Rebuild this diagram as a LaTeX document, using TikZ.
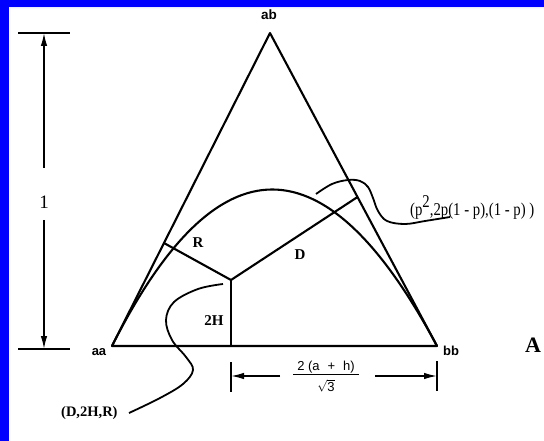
\documentclass[tikz,border=0pt]{standalone}
\usepackage{fontspec}
\setmainfont{Liberation Serif}
\setsansfont{Liberation Sans}
\usetikzlibrary{calc,arrows.meta}
\definecolor{frameblue}{RGB}{0,0,255}
\tikzset{
  edge/.style={line width=2.1pt, line join=round},
  leader/.style={line width=1.8pt},
  dimline/.style={line width=1.8pt},
  dimarrow/.style={line width=1.5pt,-{Latex[length=13pt,width=6.5pt]}},
  lbl/.style={inner sep=0pt, font=\fontsize{15}{15}\selectfont\bfseries},
  vlbl/.style={inner sep=0pt, font=\fontsize{13.5}{13.5}\selectfont\sffamily\bfseries},
  txt/.style={inner sep=0pt, font=\fontsize{14}{14}\selectfont},
  fractxt/.style={inner sep=0pt, font=\fontsize{13}{13}\selectfont\sffamily},
}
\begin{document}
\begin{tikzpicture}[x=1pt,y=-1pt]
\useasboundingbox (0,0) rectangle (544,441);
\fill[white] (0,0) rectangle (544,441);
\fill[frameblue] (0,0) rectangle (544,7);
\fill[frameblue] (0,0) rectangle (9,441);

% vertices
\coordinate (aa) at (112,346);
\coordinate (ab) at (270,33);
\coordinate (bb) at (437,346);
\coordinate (P) at (231,280);
\coordinate (Rf) at ($(aa)!0.329!(ab)$);
\coordinate (Df) at ($(bb)!0.476!(ab)$);
\coordinate (Hf) at (231,346);

% triangle
\draw[edge] (aa) -- (ab) -- (bb) -- cycle;
% Hardy-Weinberg parabola
\draw[edge] (aa) .. controls ($(aa)!0.6667!(ab)$) and ($(bb)!0.6667!(ab)$) .. (bb);
% distances
\draw[edge] (P) -- (Rf);
\draw[edge] (P) -- (Df);
\draw[edge] (P) -- (Hf);

% vertex labels
\node[vlbl] (lab) at (269,15) {ab};
\node[vlbl, font=\fontsize{13}{13}\selectfont\sffamily\bfseries] (laa) at (99,352) {aa};
\node[vlbl, font=\fontsize{13}{13}\selectfont\sffamily\bfseries] (lbb) at (451,351) {bb};
\node[inner sep=0pt, font=\fontsize{22}{22}\selectfont\bfseries] (lA) at (533,345) {A};

% interior labels
\node[lbl] (lR) at (198,243) {R};
\node[lbl] (lD) at (300,255) {D};
\node[lbl] (lH) at (214,321) {2H};

% height dimension
\coordinate (t1) at (18,33); \coordinate (t2) at (70,33);
\coordinate (b1) at (18,349); \coordinate (b2) at (70,349);
\draw[dimline] (t1) -- (t2);
\draw[dimline] (b1) -- (b2);
\node[inner sep=0pt, font=\fontsize{19}{19}\selectfont] (one) at (44,202) {1};
\coordinate (ua) at (44,168); \coordinate (ut) at (44,33);
\coordinate (la) at (44,220); \coordinate (lt) at (44,349);
\draw[dimarrow] (ua) -- (ut);
\draw[dimarrow] (la) -- (lt);

% base dimension
\coordinate (lk1) at (231,362); \coordinate (lk2) at (231,392);
\coordinate (rk1) at (437,361); \coordinate (rk2) at (437,391);
\draw[dimline] (lk1) -- (lk2);
\draw[dimline] (rk1) -- (rk2);
\node[fractxt] (num) at (326,367) {2 (a\,\, +\,\, h)};
\node[fractxt] (den) at (326,386) {\(\sqrt{\mbox{\sffamily\fontsize{13}{13}\selectfont 3}}\)};
\coordinate (bar1) at (293,374.5); \coordinate (bar2) at (359,374.5);
\draw[line width=0.7pt] (bar1) -- (bar2);
\coordinate (la1) at (280,376); \coordinate (la2) at (231,376);
\coordinate (ra1) at (375,376); \coordinate (ra2) at (437,376);
\draw[dimarrow] (la1) -- (la2);
\draw[dimarrow] (ra1) -- (ra2);

% point labels and leaders
\node[txt, font=\fontsize{14.5}{14.5}\selectfont\bfseries, anchor=west] (lpt) at (61,413) {(D,2H,R)};
\coordinate (s1) at (223,284);
\coordinate (e1) at (129,413);
\draw[leader] plot[smooth, tension=0.6] coordinates
  {(s1) (198,289) (174,302) (166,320) (172,340) (186,357) (193,370) (183,384) (160,398) (e1)};

\node[txt, font=\fontsize{18}{18}\selectfont, anchor=west] (lp) at (410,207)
  {\scalebox{0.82}[1]{(p\raisebox{8pt}{2},2p(1 - p),(1 - p) )}};
\coordinate (s2) at (316,194);
\coordinate (e2) at (450,217);
\draw[leader] plot[smooth, tension=0.6] coordinates
  {(s2) (332,184) (348,180) (360,181) (368,187) (373,198) (378,211) (387,221) (405,224) (425,221) (e2)};
\end{tikzpicture}
\end{document}
